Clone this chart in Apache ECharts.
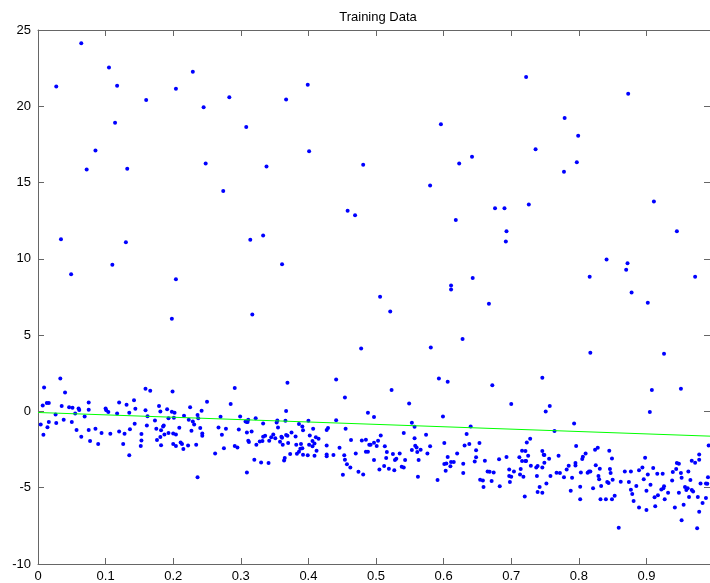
<!DOCTYPE html>
<html>
<head>
<meta charset="utf-8">
<title>Training Data</title>
<script src="https://cdn.jsdelivr.net/npm/echarts@6/dist/echarts.min.js"></script>
<style>
  html, body { margin: 0; padding: 0; background: #fff; }
  #chart { width: 710px; height: 583px; }
</style>
</head>
<body>
<div id="chart"></div>
<script>
// outliers above the main band
const upperPoints = [
  [0.027, 21.30], [0.034, 11.29], [0.049, 8.99], [0.064, 24.13], [0.072, 15.86], [0.085, 17.11],
  [0.105, 22.55], [0.110, 9.61], [0.114, 18.92], [0.117, 21.35], [0.130, 11.09], [0.132, 15.90],
  [0.160, 20.41], [0.204, 21.15], [0.204, 8.67], [0.229, 22.27], [0.245, 19.93], [0.248, 16.25],
  [0.274, 14.44], [0.283, 20.60], [0.308, 18.64], [0.314, 11.25], [0.333, 11.53], [0.338, 16.06],
  [0.361, 9.65], [0.367, 20.45], [0.399, 21.41], [0.401, 17.06], [0.458, 13.15], [0.469, 12.86],
  [0.481, 16.17], [0.506, 7.51], [0.580, 14.81], [0.596, 18.83], [0.611, 8.25], [0.611, 7.99],
  [0.618, 12.54], [0.623, 16.25], [0.642, 16.69], [0.643, 8.75], [0.676, 13.32], [0.690, 13.32],
  [0.693, 11.81], [0.692, 11.14], [0.722, 21.92], [0.726, 13.56], [0.736, 17.19], [0.778, 15.71],
  [0.779, 19.23], [0.797, 16.34], [0.799, 18.07], [0.816, 8.82], [0.841, 9.96], [0.870, 9.28],
  [0.872, 9.72], [0.873, 20.82], [0.878, 7.79], [0.911, 13.76], [0.945, 11.81], [0.972, 8.82]
]

// main band, x < 0.48
const leftPoints = [
  [0.004, -0.85], [0.007, 0.39], [0.008, -1.53], [0.009, 1.57], [0.013, 0.55], [0.016, 0.55],
  [0.014, -1.03], [0.016, -0.70], [0.026, -0.20], [0.027, -0.76], [0.033, 2.16], [0.035, 0.35],
  [0.038, -0.55], [0.040, 1.24], [0.046, 0.28], [0.051, 0.24], [0.050, -0.70], [0.055, -0.13],
  [0.057, -1.22], [0.060, 0.20], [0.061, 0.09], [0.064, -1.66], [0.069, -0.33], [0.075, 0.59],
  [0.075, 0.11], [0.075, -1.22], [0.077, -1.94], [0.085, -1.14], [0.089, -2.14], [0.094, -1.42],
  [0.100, 0.20], [0.101, 0.07], [0.104, -0.04], [0.107, -1.46], [0.117, -0.13], [0.120, 0.59],
  [0.120, -1.31], [0.126, -2.14], [0.128, -1.46], [0.131, 0.44], [0.135, -0.09], [0.135, -2.88],
  [0.136, -1.16], [0.142, 0.74], [0.144, 0.17], [0.143, -0.81], [0.152, -2.27], [0.153, -1.48],
  [0.153, -1.90], [0.159, 1.48], [0.159, 0.07], [0.162, -0.31], [0.161, -0.92], [0.166, 1.35],
  [0.173, -0.59], [0.175, -1.14], [0.176, -1.88], [0.179, 0.35], [0.181, 0.00], [0.181, -1.68],
  [0.182, -2.21], [0.182, -1.24], [0.185, -0.98], [0.186, -0.92], [0.187, -1.51], [0.191, 0.15],
  [0.193, -0.44], [0.193, -1.42], [0.198, 6.07], [0.199, 1.31], [0.198, -0.02], [0.202, -0.09],
  [0.201, -0.41], [0.200, -1.44], [0.200, -2.14], [0.204, -1.51], [0.204, -2.27], [0.209, -1.07],
  [0.211, -2.03], [0.213, -2.14], [0.215, -2.47], [0.216, -0.28], [0.222, -2.23], [0.225, 0.28],
  [0.223, -0.55], [0.227, -1.27], [0.229, -0.66], [0.231, -0.85], [0.234, -2.18], [0.236, -0.24],
  [0.237, -0.44], [0.236, -4.32], [0.240, -1.09], [0.242, 0.04], [0.243, -1.44], [0.243, -1.59],
  [0.250, 0.63], [0.262, -2.75], [0.267, -1.05], [0.270, -0.35], [0.272, -1.53], [0.275, -2.42],
  [0.278, -1.14], [0.285, 0.48], [0.291, 1.53], [0.291, -2.27], [0.295, -2.36], [0.297, -1.18],
  [0.299, -0.33], [0.307, -0.66], [0.309, -4.00], [0.309, -0.70], [0.309, -1.38], [0.310, -0.70],
  [0.311, -0.55], [0.311, -1.92], [0.312, -2.01], [0.316, -1.31], [0.317, 6.35], [0.320, -3.17],
  [0.322, -0.44], [0.323, -2.18], [0.328, -1.97], [0.330, -3.34], [0.332, -1.94], [0.333, -0.79],
  [0.333, -1.66], [0.336, -1.59], [0.341, -3.38], [0.342, -1.92], [0.345, -1.70], [0.348, -1.51],
  [0.351, -1.75], [0.353, -0.72], [0.354, -0.59], [0.355, -1.05], [0.358, -1.99], [0.360, -1.66],
  [0.361, -1.72], [0.362, -2.18], [0.364, -3.21], [0.365, -3.06], [0.366, -0.61], [0.367, -1.55],
  [0.367, 0.02], [0.369, 1.88], [0.369, -1.59], [0.370, -2.07], [0.373, -2.79], [0.375, -1.38],
  [0.381, -1.64], [0.382, -2.18], [0.383, -2.77], [0.386, -0.83], [0.386, -2.64], [0.388, -2.45],
  [0.389, -2.14], [0.391, -2.42], [0.391, -0.98], [0.392, -1.24], [0.392, -2.84], [0.399, -2.88],
  [0.400, -0.61], [0.402, -1.57], [0.401, -2.18], [0.406, -1.94], [0.407, -1.14], [0.406, -2.29],
  [0.409, -2.10], [0.409, -2.90], [0.411, -1.70], [0.412, -2.58], [0.415, -1.79], [0.427, -2.23],
  [0.427, -1.22], [0.429, -1.09], [0.427, -2.82], [0.427, -2.93], [0.437, -2.86], [0.441, 2.10],
  [0.441, -0.57], [0.446, -2.38], [0.451, -4.15], [0.454, 0.92], [0.453, -2.88], [0.454, -3.17],
  [0.455, -1.14], [0.457, -3.47], [0.462, -3.67], [0.463, -1.88], [0.470, -2.75], [0.474, -3.95]
]

// main band, x >= 0.48
const rightPoints = [
  [0.478, 4.13], [0.479, -1.90], [0.481, -4.13], [0.485, -1.86], [0.485, -2.64], [0.488, -0.09],
  [0.488, -2.64], [0.490, -2.18], [0.492, -2.18], [0.497, -2.05], [0.497, -3.19], [0.497, -0.37],
  [0.501, -2.27], [0.503, -1.92], [0.505, -3.80], [0.507, -1.57], [0.512, -3.58], [0.513, -2.29],
  [0.515, -3.06], [0.516, -2.66], [0.519, -3.76], [0.521, 6.55], [0.523, 1.40], [0.525, -2.79],
  [0.527, -3.86], [0.528, -3.19], [0.530, -3.10], [0.535, -2.75], [0.538, -3.62], [0.541, -1.42],
  [0.541, -3.67], [0.543, -3.19], [0.549, 0.52], [0.553, -0.74], [0.553, -2.53], [0.557, -1.00],
  [0.557, -1.75], [0.558, -2.25], [0.560, -2.36], [0.561, -2.66], [0.562, -4.28], [0.563, -3.19],
  [0.566, -2.51], [0.574, -1.53], [0.576, -2.75], [0.580, -2.29], [0.581, 4.19], [0.591, -4.50],
  [0.593, 2.16], [0.599, -0.33], [0.601, -3.45], [0.601, -2.07], [0.603, -3.89], [0.604, -3.41],
  [0.606, 1.94], [0.606, -2.99], [0.610, -3.60], [0.611, -3.32], [0.615, -3.32], [0.620, -2.75],
  [0.628, 4.74], [0.629, -4.04], [0.629, -3.43], [0.631, -2.23], [0.634, -1.48], [0.638, -2.14],
  [0.640, -0.98], [0.646, -3.28], [0.648, -3.01], [0.648, -2.55], [0.653, -2.07], [0.654, -4.48],
  [0.658, -4.52], [0.659, -4.96], [0.661, -3.23], [0.665, -3.93], [0.667, 7.05], [0.668, -3.95],
  [0.671, -4.56], [0.672, 1.72], [0.674, -4.00], [0.682, -3.14], [0.683, -4.91], [0.693, -2.99],
  [0.697, -4.24], [0.697, -3.80], [0.698, -4.63], [0.700, 0.48], [0.700, -4.28], [0.704, -3.93],
  [0.712, -3.01], [0.713, -4.13], [0.714, -3.78], [0.716, -2.58], [0.716, -3.25], [0.718, -4.28],
  [0.720, -5.57], [0.721, -3.25], [0.721, -2.60], [0.722, -3.25], [0.723, -2.03], [0.725, -2.90],
  [0.728, -1.79], [0.729, -3.56], [0.737, -3.67], [0.738, -4.24], [0.739, -5.28], [0.739, -3.58],
  [0.742, -4.96], [0.746, 2.21], [0.746, -2.60], [0.746, -3.67], [0.746, -5.33], [0.748, -2.84],
  [0.749, -3.36], [0.749, -2.86], [0.751, 0.00], [0.752, -4.72], [0.756, -3.10], [0.757, 0.35],
  [0.758, -4.24], [0.764, -1.29], [0.767, -4.02], [0.770, -2.90], [0.772, -4.04], [0.778, -4.32],
  [0.782, -3.80], [0.785, -3.56], [0.788, -5.20], [0.790, -4.34], [0.793, -0.79], [0.795, -3.54],
  [0.796, -2.27], [0.795, -3.38], [0.802, -4.93], [0.802, -5.76], [0.803, -4.00], [0.805, -3.12],
  [0.806, -2.97], [0.810, -2.75], [0.813, -4.02], [0.815, -3.93], [0.817, -3.93], [0.817, 3.84],
  [0.821, -5.04], [0.824, -2.51], [0.825, -3.52], [0.828, -2.38], [0.829, -4.24], [0.830, -4.45],
  [0.831, -3.76], [0.832, -5.76], [0.833, -4.89], [0.840, -5.76], [0.842, -4.63], [0.844, -4.69],
  [0.845, -2.58], [0.846, -3.78], [0.847, -4.04], [0.849, -5.76], [0.849, -3.08], [0.850, -4.48],
  [0.853, -5.52], [0.859, -7.62], [0.862, -4.61], [0.868, -3.93], [0.874, -4.63], [0.877, -3.93],
  [0.877, -5.13], [0.879, -5.41], [0.881, -5.87], [0.885, -4.89], [0.889, -3.86], [0.889, -6.29],
  [0.894, -3.67], [0.896, -4.45], [0.898, -3.03], [0.900, -5.20], [0.900, -6.46], [0.902, 7.12],
  [0.902, -4.13], [0.905, -0.04], [0.906, -4.80], [0.908, 1.40], [0.910, -3.71], [0.912, -5.63],
  [0.913, -6.22], [0.916, -4.08], [0.917, -5.50], [0.922, -5.11], [0.924, -4.08], [0.925, -5.04],
  [0.926, 3.78], [0.926, -4.91], [0.927, -5.76], [0.932, -5.33], [0.938, -4.52], [0.939, -3.97],
  [0.942, -6.29], [0.944, -3.78], [0.945, -3.38], [0.948, -3.43], [0.948, -5.33], [0.951, -4.04],
  [0.951, 1.48], [0.952, -4.34], [0.952, -7.14], [0.955, -6.11], [0.957, -4.96], [0.959, -5.15],
  [0.961, -5.04], [0.962, -3.93], [0.963, -5.61], [0.965, -4.50], [0.967, -3.23], [0.967, -5.15],
  [0.969, -5.24], [0.972, -3.36], [0.975, -7.66], [0.976, -5.61], [0.978, -3.17], [0.978, -6.57],
  [0.978, -2.82], [0.980, -4.72], [0.983, -6.00], [0.988, -4.72], [0.988, -5.68], [0.990, -4.74],
  [0.991, -4.32], [0.992, -2.23]
]

// fitted line end points
const fitX = [0, 0.994]
const fitY = [-0.07, -1.62]

const xRange = [0, 0.994]
const yRange = [-10, 25]

const chart = echarts.init(document.getElementById('chart'))

const axisColor = '#666'
const labelFont = {
  color: '#000',
  fontSize: 13,
  fontFamily: 'Liberation Sans, Arial, sans-serif'
}

// axis with the box look: line on every side, ticks pointing inward
function boxAxis(pos, range, interval, showLabel, labelMargin) {
  return {
    type: 'value',
    position: pos,
    min: range[0],
    max: range[1],
    interval: interval,
    axisLine: { show: true, onZero: false, lineStyle: { color: axisColor } },
    axisTick: { show: true, inside: true, length: 6, lineStyle: { color: axisColor } },
    axisLabel: showLabel
      ? Object.assign({ margin: labelMargin, showMaxLabel: pos !== 'bottom' }, labelFont)
      : { show: false },
    splitLine: { show: false }
  }
}

const option = {
  animation: false,
  title: {
    text: 'Training Data',
    left: 373,
    top: 6,
    textAlign: 'center',
    textStyle: {
      color: '#000',
      fontSize: 13,
      fontWeight: 'normal',
      fontFamily: 'Liberation Sans, Arial, sans-serif'
    }
  },
  grid: {
    left: 38,
    top: 30,
    right: 0,
    bottom: 19
  },
  xAxis: [
    boxAxis('bottom', xRange, 0.1, true, 6),
    boxAxis('top', xRange, 0.1, false)
  ],
  yAxis: [
    boxAxis('left', yRange, 5, true, 7),
    boxAxis('right', yRange, 5, false)
  ],
  series: [
    {
      type: 'scatter',
      data: upperPoints.concat(leftPoints, rightPoints),
      symbol: 'circle',
      symbolSize: 4,
      itemStyle: { color: '#0000ff', opacity: 1 }
    },
    {
      type: 'line',
      data: fitX.map((x, i) => [x, fitY[i]]),
      showSymbol: false,
      lineStyle: { color: '#00ff00', width: 1 }
    }
  ]
}

chart.setOption(option)
</script>
</body>
</html>
